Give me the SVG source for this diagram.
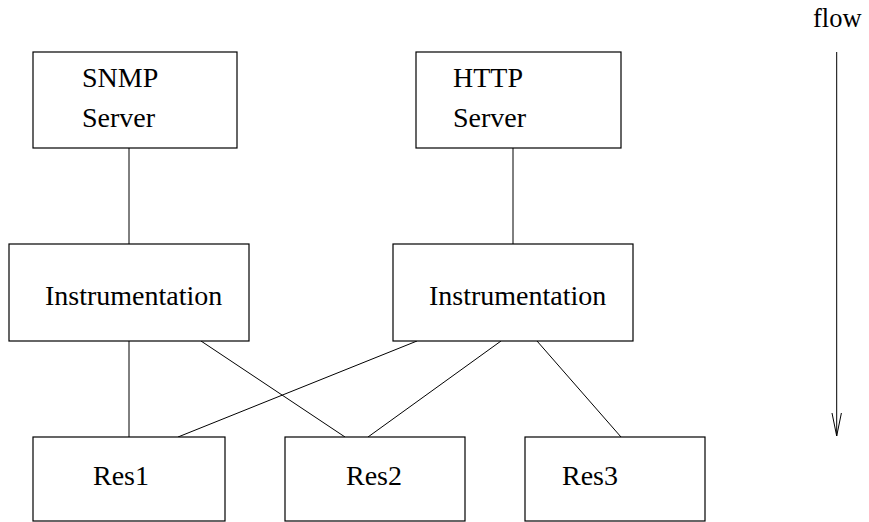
<svg xmlns="http://www.w3.org/2000/svg" width="869" height="522" viewBox="0 0 869 522">
  <defs>
    <style>
      .box { fill: #ffffff; stroke: #000000; stroke-width: 1.2; }
      .lbl { font-family: "Liberation Serif", "Times New Roman", serif; font-size: 28px; fill: #000000; }
      .conn { stroke: #000000; stroke-width: 1; fill: none; }
    </style>
    <marker id="vhead" markerWidth="26" markerHeight="12" refX="23" refY="6" orient="auto" markerUnits="userSpaceOnUse" viewBox="0 0 26 12">
      <path d="M0,1.3 L23,6 L0,10.7" fill="none" stroke="#000000" stroke-width="1"/>
    </marker>
  </defs>
  <rect width="869" height="522" fill="#ffffff"/>
  <g id="connectors">
    <line class="conn" x1="129" y1="148" x2="129" y2="244"/>
    <line class="conn" x1="513" y1="148" x2="513" y2="244"/>
    <line class="conn" x1="129" y1="341" x2="129" y2="437"/>
    <line class="conn" x1="201" y1="341" x2="345" y2="437"/>
    <line class="conn" x1="417" y1="341" x2="178" y2="437"/>
    <line class="conn" x1="501" y1="341" x2="368" y2="437"/>
    <line class="conn" x1="537" y1="341" x2="621" y2="437"/>
  </g>
  <g id="snmp-server">
    <rect class="box" x="33" y="52" width="204" height="96"/>
    <text class="lbl" x="82" y="87">SNMP</text>
    <text class="lbl" x="82" y="127">Server</text>
  </g>
  <g id="http-server">
    <rect class="box" x="416" y="52" width="205" height="96"/>
    <text class="lbl" x="453" y="87">HTTP</text>
    <text class="lbl" x="453" y="127">Server</text>
  </g>
  <g id="instrumentation-left">
    <rect class="box" x="9" y="244" width="240" height="97"/>
    <text class="lbl" x="45" y="305">Instrumentation</text>
  </g>
  <g id="instrumentation-right">
    <rect class="box" x="393" y="244" width="240" height="97"/>
    <text class="lbl" x="429" y="305">Instrumentation</text>
  </g>
  <g id="res1">
    <rect class="box" x="33" y="437" width="192" height="84"/>
    <text class="lbl" x="93" y="485">Res1</text>
  </g>
  <g id="res2">
    <rect class="box" x="285" y="437" width="180" height="84"/>
    <text class="lbl" x="346" y="485">Res2</text>
  </g>
  <g id="res3">
    <rect class="box" x="525" y="437" width="180" height="84"/>
    <text class="lbl" x="562" y="485">Res3</text>
  </g>
  <g id="flow">
    <text class="lbl" x="813" y="27" style="font-size:26.5px">flow</text>
    <line class="conn" x1="836.7" y1="52" x2="836.7" y2="436" marker-end="url(#vhead)"/>
  </g>
</svg>
